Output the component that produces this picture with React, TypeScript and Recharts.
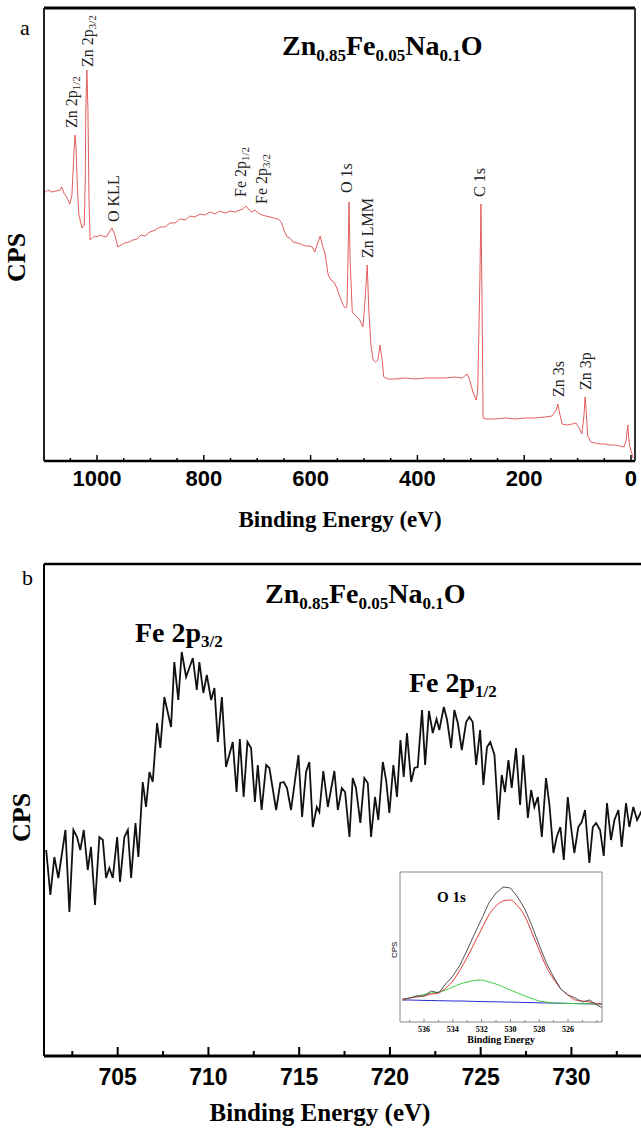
import React from 'react';
import { LineChart, Line, XAxis, YAxis } from 'recharts';

// ---------- Panel a: XPS survey spectrum ----------
const surveyBE = [
  1099, 1092, 1084, 1077, 1069, 1066, 1062, 1056, 1051, 1047,
  1043, 1041, 1039, 1037, 1034, 1028, 1024, 1022, 1021, 1019,
  1017, 1015, 1013, 1009, 1004, 1000, 994, 989, 983, 977,
  972, 966, 961, 955, 948, 940, 933, 925, 918, 910,
  901, 891, 882, 873, 863, 854, 845, 835, 826, 817,
  807, 798, 788, 779, 770, 760, 751, 742, 732, 727,
  721, 715, 710, 704, 698, 691, 684, 676, 669, 661,
  655, 650, 644, 639, 633, 625, 618, 610, 603, 597,
  592, 588, 582, 578, 573, 567, 562, 556, 551, 545,
  539, 535, 532, 530, 528, 526, 522, 517, 513, 508,
  502, 498, 494, 491, 487, 483, 478, 474, 470, 466,
  463, 455, 442, 423, 404, 386, 367, 348, 330, 316,
  307, 302, 296, 290, 287, 283, 281, 279, 277, 270,
  255, 236, 217, 199, 180, 161, 148, 140, 137, 133,
  129, 120, 110, 103, 97, 92, 88, 86, 84, 81,
  75, 67, 58, 49, 39, 30, 21, 13, 9, 6,
  4, 2, -4,
];
const surveyCPS = [
  268, 271, 269, 270, 271, 274, 268, 263, 257, 266,
  311, 326, 311, 276, 246, 233, 236, 281, 351, 391,
  351, 261, 221, 223, 225, 224, 226, 225, 224, 229,
  233, 225, 214, 216, 218, 219, 221, 222, 226, 225,
  229, 231, 234, 234, 238, 238, 242, 241, 245, 244,
  247, 246, 249, 247, 250, 248, 250, 249, 251, 252,
  255, 251, 249, 251, 248, 246, 245, 244, 243, 242,
  239, 231, 224, 223, 219, 218, 217, 215, 215, 214,
  209, 216, 225, 216, 207, 186, 181, 179, 173, 164,
  156, 153, 154, 201, 259, 201, 149, 146, 144, 141,
  134, 161, 196, 151, 116, 101, 99, 101, 116, 101,
  84, 82, 82, 83, 82, 83, 83, 83, 84, 83,
  87, 81, 69, 61, 71, 181, 257, 161, 43, 42,
  42, 43, 42, 43, 43, 44, 45, 51, 57, 46,
  37, 36, 37, 38, 33, 27, 46, 64, 51, 25,
  19, 18, 17, 17, 16, 16, 15, 14, 21, 36,
  21, 14, 3,
];
const surveyTicks = [1050, 1000, 950, 900, 850, 800, 750, 700, 650, 600, 550, 500, 450, 400, 350, 300, 250, 200, 150, 100, 50, 0];
const surveyTickLabels = [1000, 800, 600, 400, 200, 0];

// ---------- Panel b: Fe 2p high resolution ----------
const fe2pBE = [
  701.06, 701.29, 701.51, 701.73, 702.12, 702.34, 702.56, 702.76, 702.94, 703.13,
  703.35, 703.53, 703.75, 703.99, 704.18, 704.36, 704.54, 704.73, 704.97, 705.13,
  705.37, 705.56, 705.74, 705.98, 706.14, 706.38, 706.56, 706.75, 706.93, 707.17,
  707.35, 707.57, 707.94, 708.12, 708.34, 708.53, 708.77, 709.14, 709.36, 709.5,
  709.72, 709.91, 710.15, 710.33, 710.52, 710.74, 710.97, 711.34, 711.55, 711.73,
  711.94, 712.15, 712.35, 712.56, 712.72, 712.93, 713.18, 713.36, 713.73, 713.96,
  714.15, 714.33, 714.55, 714.96, 715.16, 715.38, 715.56, 715.75, 715.97, 716.11,
  716.33, 716.58, 716.94, 717.13, 717.35, 717.53, 717.77, 717.95, 718.13, 718.37,
  718.59, 718.78, 718.96, 719.18, 719.36, 719.61, 719.79, 719.97, 720.19, 720.39,
  720.58, 720.76, 720.94, 721.17, 721.35, 721.53, 721.77, 721.94, 722.15, 722.36,
  722.57, 722.72, 722.97, 723.15, 723.37, 723.55, 723.74, 723.96, 724.2, 724.38,
  724.56, 724.75, 724.97, 725.15, 725.35, 725.53, 725.76, 725.98, 726.16, 726.34,
  726.53, 726.71, 726.95, 727.17, 727.35, 727.6, 727.78, 727.96, 728.15, 728.37,
  728.6, 728.79, 729.01, 729.19, 729.39, 729.58, 729.8, 729.98, 730.16, 730.38,
  730.57, 730.75, 730.99, 731.18, 731.36, 731.58, 731.78, 731.96, 732.18, 732.37,
  732.59, 732.77, 733.01, 733.19, 733.41, 733.62, 733.84, 734.1,
];
const fe2pCPS = [
  206, 161, 199, 178, 226, 144, 226, 219, 206, 226,
  186, 209, 151, 219, 216, 178, 188, 178, 219, 174,
  219, 226, 178, 233, 199, 274, 249, 284, 274, 333,
  308, 359, 329, 394, 356, 404, 379, 398, 366, 394,
  363, 381, 356, 368, 314, 359, 289, 314, 264, 317,
  259, 314, 308, 254, 291, 246, 291, 288, 246, 273,
  274, 268, 246, 301, 239, 284, 294, 229, 249, 244,
  285, 249, 285, 246, 268, 264, 219, 278, 268, 233,
  278, 273, 219, 259, 236, 294, 276, 243, 291, 259,
  316, 279, 323, 274, 288, 289, 346, 291, 345, 323,
  337, 326, 349, 336, 308, 346, 333, 306, 334, 339,
  334, 291, 326, 271, 309, 314, 301, 236, 281, 264,
  296, 268, 308, 251, 301, 238, 266, 249, 259, 219,
  278, 251, 203, 219, 229, 196, 259, 229, 203, 229,
  234, 246, 193, 229, 233, 226, 200, 253, 216, 236,
  246, 209, 253, 229, 249, 236, 244, 230,
];
const fe2pTicks = [702.5, 705, 707.5, 710, 712.5, 715, 717.5, 720, 722.5, 725, 727.5, 730, 732.5];
const fe2pTickLabels = [705, 710, 715, 720, 725, 730];

// ---------- Inset: O 1s ----------
const o1sBE = [537.5, 537, 536.5, 536, 535.5, 535, 534.5, 534, 533.5, 533, 532.5, 532, 531.5, 531, 530.5, 530, 529.5, 529, 528.5, 528, 527.5, 527, 526.5, 526, 525.5, 525, 524.5, 524, 523.6];
const o1sRaw = [23, 24, 26, 26, 31, 29, 38, 46, 57, 72, 88, 103, 119, 129, 135, 134, 125, 113, 96, 77, 59, 45, 33, 27, 24, 20, 22, 17, 14];
const o1sFitMain = [22, 24, 25, 26, 28, 29, 34, 41, 52, 65, 79, 93, 107, 116, 121, 122, 116, 106, 89, 72, 55, 43, 33, 27, 22, 21, 20, 18.5, 18];
const o1sFitSecond = [22, 24, 26, 27.5, 29, 30, 32, 35, 38, 40, 41.5, 42, 40, 38, 35, 32, 29, 26, 23.5, 21, 20, 19, 18.8, 18.6, 18.4, 18.3, 18.2, 18.1, 18];
const o1sBackground = [22, 22, 21.8, 21.6, 21.5, 21.3, 21.2, 21, 21, 20.8, 20.6, 20.5, 20.3, 20.2, 20, 19.9, 19.7, 19.5, 19.4, 19.2, 19, 18.9, 18.7, 18.6, 18.4, 18.3, 18.1, 18, 18];
const o1sTicks = [537, 536, 535, 534, 533, 532, 531, 530, 529, 528, 527, 526, 525, 524];
const o1sTickLabels = [536, 534, 532, 530, 528, 526];

const surveyData = surveyBE.map((be, i) => ({ be, cps: surveyCPS[i] }));
const fe2pData = fe2pBE.map((be, i) => ({ be, cps: fe2pCPS[i] }));
const o1sData = o1sBE.map((be, i) => ({
  be,
  raw: o1sRaw[i],
  main: o1sFitMain[i],
  second: o1sFitSecond[i],
  bg: o1sBackground[i],
}));

const SERIF = '"Liberation Serif", "Times New Roman", serif';
const SANS = '"Liberation Sans", Arial, sans-serif';

const makeTick = (
  labels: number[],
  major: number,
  minor: number,
  fontSize: number,
  labelDy: number,
  family: string,
  color: string,
  strokeW: number
) => (props: any) => {
  const { x, y, payload } = props;
  const isMajor = labels.includes(payload.value);
  return (
    <g>
      <line x1={x} x2={x} y1={y} y2={y - (isMajor ? major : minor)} stroke={color} strokeWidth={strokeW} />
      {isMajor && (
        <text x={x} y={y + labelDy} textAnchor="middle" fontSize={fontSize} fontWeight={700} fontFamily={family} fill="#000">
          {payload.value}
        </text>
      )}
    </g>
  );
};

const SurveyTick = makeTick(surveyTickLabels, 6, 3, 22, 25, SANS, '#000', 1.5);
const Fe2pTick = makeTick(fe2pTickLabels, 9, 5, 23, 29, SANS, '#000', 2);
const O1sTick = makeTick(o1sTickLabels, 3, 2, 8, 10, SERIF, '#666', 0.8);

const Formula = ({ x, y }: { x: number; y: number }) => (
  <text x={x} y={y} fontFamily={SERIF} fontWeight={700} fontSize={28} fill="#000">
    Zn<tspan fontSize={17} dy={6}>0.85</tspan>
    <tspan dy={-6}>Fe</tspan>
    <tspan fontSize={17} dy={6}>0.05</tspan>
    <tspan dy={-6}>Na</tspan>
    <tspan fontSize={17} dy={6}>0.1</tspan>
    <tspan dy={-6}>O</tspan>
  </text>
);

const VLabel = ({ x, y, main, sub }: { x: number; y: number; main: string; sub?: string }) => (
  <text transform={`translate(${x},${y}) rotate(-90)`} fontFamily={SERIF} fontSize={16} fill="#222">
    {main}
    {sub && (
      <tspan fontSize={11} dy={3}>
        {sub}
      </tspan>
    )}
  </text>
);

export default function App() {
  return (
    <div style={{ position: 'absolute', left: 0, top: 0, width: 641, height: 1131, overflow: 'hidden', background: '#fff' }}>
      {/* Panel a */}
      <div style={{ position: 'absolute', left: 0, top: 0 }}>
        <LineChart width={641} height={540} data={surveyData} margin={{ top: 7, right: 5, bottom: 9, left: 43 }}>
          <XAxis
            dataKey="be"
            type="number"
            domain={[-7.5, 1099.3]}
            allowDataOverflow
            reversed
            ticks={surveyTicks}
            interval={0}
            tickSize={0}
            tickMargin={0}
            tickLine={false}
            tick={SurveyTick}
            height={70}
            axisLine={{ stroke: '#000', strokeWidth: 2.5 }}
          />
          <XAxis
            xAxisId="top"
            orientation="top"
            type="number"
            domain={[-7.5, 1099.3]}
            reversed
            tick={false}
            tickLine={false}
            height={1}
            axisLine={{ stroke: '#000', strokeWidth: 3 }}
          />
          <YAxis type="number" domain={[0, 453]} allowDataOverflow tick={false} tickLine={false} width={1} axisLine={{ stroke: '#222', strokeWidth: 2 }} />
          <YAxis yAxisId="right" orientation="right" type="number" domain={[0, 453]} tick={false} tickLine={false} width={1} axisLine={{ stroke: '#333', strokeWidth: 2 }} />
          <Line dataKey="cps" type="linear" stroke="#e35d5d" strokeWidth={1} dot={false} activeDot={false} isAnimationActive={false} />
        </LineChart>
      </div>

      {/* Panel b */}
      <div style={{ position: 'absolute', left: 0, top: 560 }}>
        <LineChart width={660} height={571} data={fe2pData} margin={{ top: 3, right: 10, bottom: 5, left: 43 }}>
          <XAxis
            dataKey="be"
            type="number"
            domain={[700.94, 734.33]}
            allowDataOverflow
            ticks={fe2pTicks}
            interval={0}
            tickSize={0}
            tickMargin={0}
            tickLine={false}
            tick={Fe2pTick}
            height={70}
            axisLine={{ stroke: '#000', strokeWidth: 3 }}
          />
          <XAxis
            xAxisId="top"
            orientation="top"
            type="number"
            domain={[700.94, 734.33]}
            tick={false}
            tickLine={false}
            height={1}
            axisLine={{ stroke: '#000', strokeWidth: 2.5 }}
          />
          <YAxis type="number" domain={[0, 492]} allowDataOverflow tick={false} tickLine={false} width={1} axisLine={{ stroke: '#000', strokeWidth: 2 }} />
          <Line dataKey="cps" type="linear" stroke="#111" strokeWidth={1.8} dot={false} activeDot={false} isAnimationActive={false} />
        </LineChart>
      </div>

      {/* Inset O 1s */}
      <div style={{ position: 'absolute', left: 399, top: 871, background: '#fff' }}>
        <LineChart width={204} height={175} data={o1sData} margin={{ top: 0, right: 0, bottom: 23, left: 0 }}>
          <XAxis
            dataKey="be"
            type="number"
            domain={[523.64, 537.67]}
            allowDataOverflow
            reversed
            ticks={o1sTicks}
            interval={0}
            tickSize={0}
            tickMargin={0}
            tickLine={false}
            tick={O1sTick}
            height={1}
            axisLine={{ stroke: '#888', strokeWidth: 1 }}
          />
          <XAxis xAxisId="top" orientation="top" type="number" domain={[523.64, 537.67]} reversed tick={false} tickLine={false} height={1} axisLine={{ stroke: '#888', strokeWidth: 1 }} />
          <YAxis type="number" domain={[0, 150]} allowDataOverflow tick={false} tickLine={false} width={1} axisLine={{ stroke: '#888', strokeWidth: 1 }} />
          <YAxis yAxisId="right" orientation="right" type="number" domain={[0, 150]} tick={false} tickLine={false} width={1} axisLine={{ stroke: '#888', strokeWidth: 1 }} />
          <Line dataKey="bg" type="monotone" stroke="#2a2ad0" strokeWidth={1} dot={false} activeDot={false} isAnimationActive={false} />
          <Line dataKey="second" type="monotone" stroke="#3ccc3c" strokeWidth={1} dot={false} activeDot={false} isAnimationActive={false} />
          <Line dataKey="main" type="monotone" stroke="#e03a3a" strokeWidth={1} dot={false} activeDot={false} isAnimationActive={false} />
          <Line dataKey="raw" type="linear" stroke="#555" strokeWidth={1} dot={false} activeDot={false} isAnimationActive={false} />
        </LineChart>
      </div>

      {/* Annotations */}
      <svg width={641} height={1131} style={{ position: 'absolute', left: 0, top: 0, pointerEvents: 'none' }}>
        <text x={20} y={35} fontFamily={SERIF} fontSize={22} fill="#000">a</text>
        <Formula x={282} y={55} />
        <VLabel x={77} y={128} main="Zn 2p" sub="1/2" />
        <VLabel x={93} y={67} main="Zn 2p" sub="3/2" />
        <VLabel x={119} y={222} main="O KLL" />
        <VLabel x={246} y={197} main="Fe 2p" sub="1/2" />
        <VLabel x={267} y={204} main="Fe 2p" sub="3/2" />
        <VLabel x={352} y={193} main="O 1s" />
        <VLabel x={373} y={258} main="Zn LMM" />
        <VLabel x={485} y={197} main="C 1s" />
        <VLabel x={564} y={397} main="Zn 3s" />
        <VLabel x={591} y={390} main="Zn 3p" />
        <text transform="translate(25,282) rotate(-90)" fontFamily={SERIF} fontWeight={700} fontSize={26} fill="#000">CPS</text>
        <text x={340} y={527} textAnchor="middle" fontFamily={SERIF} fontWeight={700} fontSize={23} fill="#000">Binding Energy (eV)</text>

        <text x={22} y={585} fontFamily={SERIF} fontSize={22} fill="#000">b</text>
        <Formula x={265} y={603} />
        <text x={135} y={642} fontFamily={SERIF} fontWeight={700} fontSize={28} fill="#000">
          Fe 2p<tspan fontSize={17} dy={5}>3/2</tspan>
        </text>
        <text x={409} y={692} fontFamily={SERIF} fontWeight={700} fontSize={28} fill="#000">
          Fe 2p<tspan fontSize={17} dy={5}>1/2</tspan>
        </text>
        <text transform="translate(30,842) rotate(-90)" fontFamily={SERIF} fontWeight={700} fontSize={26} fill="#000">CPS</text>
        <text x={320} y={1121} textAnchor="middle" fontFamily={SERIF} fontWeight={700} fontSize={25} fill="#000">Binding Energy (eV)</text>

        <text x={437} y={902} fontFamily={SERIF} fontWeight={700} fontSize={15} fill="#000">O 1s</text>
        <text transform="translate(397,958) rotate(-90)" fontFamily={SANS} fontSize={8} fill="#000">CPS</text>
        <text x={501} y={1043} textAnchor="middle" fontFamily={SERIF} fontWeight={700} fontSize={10} fill="#000">Binding Energy</text>
      </svg>
    </div>
  );
}
